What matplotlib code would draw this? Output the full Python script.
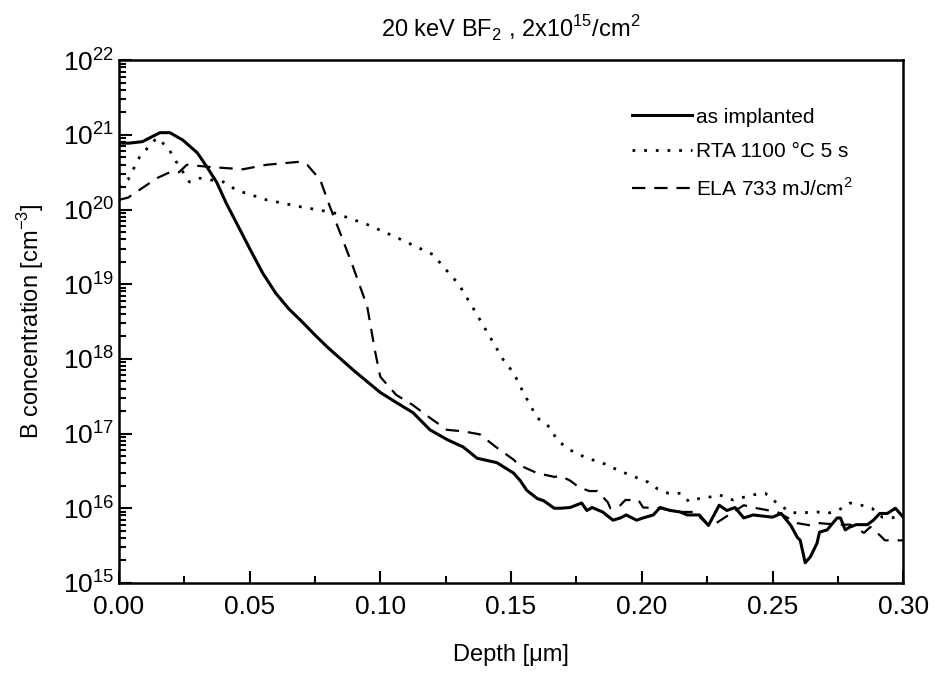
"""B depth profiles for 20 keV BF2 implant: as implanted, RTA and ELA."""
import matplotlib
matplotlib.use("Agg")
import matplotlib.pyplot as plt
import numpy as np
from matplotlib.ticker import FixedLocator, LogFormatterMathtext, MultipleLocator, NullFormatter

plt.rcParams["font.family"] = ["Liberation Sans", "DejaVu Sans"]
plt.rcParams["mathtext.fontset"] = "custom"
plt.rcParams["mathtext.rm"] = "Liberation Sans"

# depth [um], log10 concentration [cm^-3]
IMPL_X = [0.0, 0.004, 0.009, 0.0157, 0.0195, 0.0245, 0.030, 0.0337, 0.0375, 0.041, 0.045, 0.050,
          0.055, 0.060, 0.065, 0.070, 0.075, 0.080, 0.090, 0.100, 0.1064, 0.1125, 0.119, 0.1255,
          0.1317, 0.137, 0.1446, 0.151, 0.1535, 0.156, 0.160, 0.1625, 0.1665, 0.169, 0.1726, 0.177,
          0.179, 0.181, 0.185, 0.189, 0.1918, 0.194, 0.198, 0.2005, 0.2044, 0.207, 0.2109, 0.2147,
          0.2174, 0.222, 0.2255, 0.2296, 0.2326, 0.2357, 0.239, 0.2426, 0.250, 0.2533, 0.257, 0.2595,
          0.2606, 0.2625, 0.2645, 0.267, 0.268, 0.2709, 0.2747, 0.276, 0.2778, 0.2797, 0.282, 0.2863,
          0.2886, 0.291, 0.2939, 0.297, 0.300]
IMPL_Y = [20.89, 20.89, 20.91, 21.03, 21.03, 20.93, 20.76, 20.57, 20.36, 20.09, 19.82, 19.48,
          19.15, 18.88, 18.67, 18.5, 18.32, 18.15, 17.84, 17.55, 17.41, 17.28, 17.05, 16.92,
          16.82, 16.67, 16.61, 16.47, 16.37, 16.24, 16.13, 16.1, 16.0, 16.0, 16.01, 16.07,
          15.97, 16.01, 15.95, 15.84, 15.87, 15.91, 15.84, 15.87, 15.91, 16.01, 15.97, 15.95,
          15.91, 15.91, 15.77, 16.04, 15.97, 16.01, 15.87, 15.91, 15.88, 15.93, 15.77, 15.61,
          15.57, 15.27, 15.35, 15.53, 15.68, 15.71, 15.87, 15.87, 15.71, 15.75, 15.78, 15.78,
          15.84, 15.93, 15.93, 16.0, 15.88]

RTA_X = [0.0, 0.0035, 0.008, 0.0145, 0.0188, 0.0214, 0.027, 0.031, 0.040, 0.045, 0.0565, 0.069,
         0.082, 0.095, 0.106, 0.12, 0.13, 0.136, 0.142, 0.147, 0.151, 0.1547, 0.160, 0.165, 0.1676,
         0.1726, 0.179, 0.1848, 0.189, 0.1937, 0.198, 0.2024, 0.206, 0.2102, 0.215, 0.218, 0.222,
         0.226, 0.2296, 0.2349, 0.2426, 0.2472, 0.251, 0.257, 0.2617, 0.267, 0.2709, 0.275, 0.2797,
         0.284, 0.288, 0.292, 0.2954, 0.300]
RTA_Y = [20.3, 20.4, 20.71, 20.96, 20.83, 20.67, 20.37, 20.42, 20.37, 20.26, 20.13, 20.04,
         19.96, 19.8, 19.63, 19.4, 19.0, 18.65, 18.29, 17.99, 17.81, 17.55, 17.21, 17.08, 16.91,
         16.78, 16.67, 16.61, 16.54, 16.47, 16.41, 16.35, 16.26, 16.2, 16.2, 16.09, 16.13,
         16.15, 16.18, 16.11, 16.18, 16.2, 16.09, 15.94, 15.94, 15.95, 15.93, 15.97, 16.07,
         16.04, 16.0, 15.88, 15.87, 15.9]

ELA_X = [0.0, 0.0035, 0.0145, 0.0195, 0.023, 0.026, 0.035, 0.0475, 0.0565, 0.069, 0.072, 0.077,
         0.0807, 0.0846, 0.0896, 0.095, 0.098, 0.100, 0.106, 0.1125, 0.119, 0.1255, 0.1317, 0.138,
         0.1446, 0.151, 0.153, 0.160, 0.1665, 0.169, 0.1726, 0.176, 0.180, 0.183, 0.187, 0.188,
         0.1918, 0.1937, 0.1987, 0.2005, 0.207, 0.2135, 0.22, 0.2262, 0.239, 0.244, 0.2518,
         0.2595, 0.2645, 0.268, 0.2747, 0.2797, 0.285, 0.2874, 0.291, 0.293, 0.2977, 0.300]
ELA_Y = [20.13, 20.16, 20.42, 20.5, 20.5, 20.6, 20.57, 20.54, 20.6, 20.64, 20.6, 20.4,
         20.04, 19.69, 19.23, 18.7, 18.1, 17.76, 17.52, 17.38, 17.21, 17.05, 17.03, 16.99,
         16.81, 16.65, 16.58, 16.47, 16.42, 16.43, 16.37, 16.28, 16.23, 16.23, 16.08, 16.0,
         16.04, 16.11, 16.11, 16.01, 16.0, 15.95, 15.95, 15.75, 16.04, 16.0, 15.95,
         15.8, 15.77, 15.8, 15.78, 15.78, 15.67, 15.75, 15.64, 15.57, 15.57, 15.57]

DECADES = [15, 16, 17, 18, 19, 20, 21, 22]

fig = plt.figure(figsize=(9.36, 6.77), dpi=100)
ax = fig.add_axes([0.127, 0.139, 0.838, 0.772])

ax.semilogy(IMPL_X, 10 ** np.array(IMPL_Y), color="black", lw=2.2, label="as implanted")
ax.semilogy(RTA_X, 10 ** np.array(RTA_Y), color="black", lw=2.0, ls=(0, (1, 3.2)),
            label="RTA 1100 °C 5 s")
ax.semilogy(ELA_X, 10 ** np.array(ELA_Y), color="black", lw=1.6, ls=(0, (6, 4)),
            label="ELA 733 mJ/cm$^2$")

ax.set_xlim(0, 0.30)
ax.set_ylim(1e15, 1e22)
ax.xaxis.set_major_locator(MultipleLocator(0.05))
ax.xaxis.set_minor_locator(MultipleLocator(0.025))
ax.yaxis.set_major_locator(FixedLocator([10.0 ** d for d in DECADES]))
ax.yaxis.set_major_formatter(LogFormatterMathtext())
minor = [m * 10.0 ** d for d in DECADES[:-1] for m in range(2, 10)]
ax.yaxis.set_minor_locator(FixedLocator(minor))
ax.yaxis.set_minor_formatter(NullFormatter())
ax.xaxis.set_major_formatter(plt.FuncFormatter(lambda v, _: f"{v:.2f}"))
ax.tick_params(which="both", direction="in", labelsize=19, width=1.5)
ax.tick_params(which="major", length=9)
ax.tick_params(which="minor", length=5)
ax.tick_params(axis="x", pad=9)
for spine in ax.spines.values():
    spine.set_linewidth(1.8)

ax.set_xlabel("Depth [μm]", fontsize=17, labelpad=18)
ax.set_ylabel("B concentration [cm$^{-3}$]", fontsize=17, labelpad=12)
ax.set_title("20 keV BF$_2$ , 2x10$^{15}$/cm$^2$", fontsize=17, pad=16)
ax.legend(loc="upper right", frameon=False, fontsize=15, handlelength=2.9,
          handletextpad=0.2, labelspacing=0.75, bbox_to_anchor=(0.96, 0.945))

fig.savefig("out.png", dpi=100)
